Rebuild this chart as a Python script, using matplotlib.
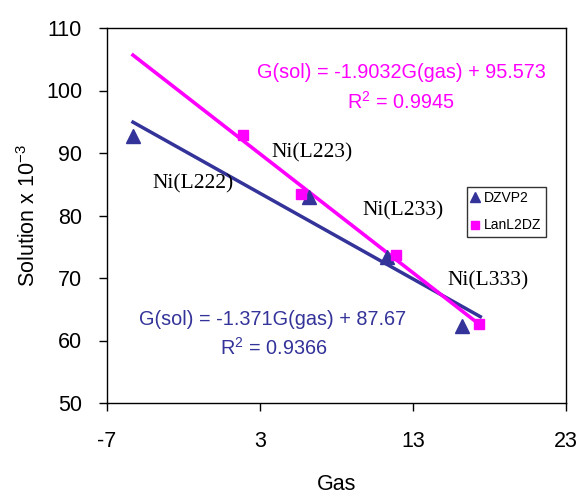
import matplotlib
matplotlib.use("Agg")
import matplotlib.pyplot as plt
import numpy as np

# Data
dzvp2_x = [-5.3, 6.2, 11.3, 16.2]
dzvp2_y = [92.8, 83.0, 73.4, 62.4]
lanl2dz_x = [1.9, 5.7, 11.9, 17.3]
lanl2dz_y = [92.9, 83.4, 73.7, 62.6]

# Fitted trend lines (from the displayed equations)
dzvp2_fit = (-1.371, 87.67)
lanl2dz_fit = (-1.9032, 95.573)
fit_x_range = (-5.3, 17.4)

point_labels = ["Ni(L222)", "Ni(L223)", "Ni(L233)", "Ni(L333)"]
label_pos_x = [-1.4, 6.4, 12.35, 17.9]
label_pos_y = [85.0, 90.0, 80.7, 69.6]

x_ticks = [-7, 3, 13, 23]
y_ticks = [50, 60, 70, 80, 90, 100, 110]

navy = "#333399"
magenta = "#FF00FF"

plt.rcParams['font.family'] = ['Liberation Sans', 'DejaVu Sans']
plt.rcParams['axes.unicode_minus'] = False
plt.rcParams['mathtext.fontset'] = 'custom'
plt.rcParams['mathtext.rm'] = 'Liberation Sans'
plt.rcParams['mathtext.it'] = 'Liberation Sans:italic'
plt.rcParams['mathtext.bf'] = 'Liberation Sans:bold'

fig = plt.figure(figsize=(5.82, 4.97), dpi=100)
ax = fig.add_axes([107/582, 1-403/497, (566-107)/582, (403-28)/497])

xs = np.array(fit_x_range)
ax.plot(xs, dzvp2_fit[0]*xs + dzvp2_fit[1], color=navy, lw=2.5, zorder=2)
ax.plot(xs, lanl2dz_fit[0]*xs + lanl2dz_fit[1], color=magenta, lw=2.6, zorder=2)

ax.plot(dzvp2_x, dzvp2_y, linestyle='none', marker='^', ms=9.5, color=navy,
        label='DZVP2', zorder=3)
ax.plot(lanl2dz_x, lanl2dz_y, linestyle='none', marker='s', ms=7.5, color=magenta,
        label='LanL2DZ', zorder=3)

for lab, lx, ly in zip(point_labels, label_pos_x, label_pos_y):
    ax.text(lx, ly, lab, ha='center', va='center', fontsize=15.5,
            family=['Liberation Serif', 'DejaVu Serif'], color='black', zorder=4)

ax.text(12.25, 102.8, "G(sol) = -1.9032G(gas) + 95.573", color=magenta,
        ha='center', va='center', fontsize=14.3)
ax.text(12.2, 98.2, "R$^{\\mathrm{2}}$ = 0.9945", color=magenta, ha='center', va='center', fontsize=14.3)
ax.text(3.85, 63.4, "G(sol) = -1.371G(gas) + 87.67", color=navy,
        ha='center', va='center', fontsize=14.3)
ax.text(3.88, 58.9, "R$^{\\mathrm{2}}$ = 0.9366", color=navy, ha='center', va='center', fontsize=14.3)

ax.set_xlim(-7, 23)
ax.set_ylim(50, 110)
ax.set_xticks(x_ticks)
ax.set_yticks(y_ticks)
ax.tick_params(axis='both', direction='out', length=6, width=1, labelsize=15.5, color='black')
ax.tick_params(axis='y', pad=12)
ax.tick_params(axis='x', pad=14)
for s in ax.spines.values():
    s.set_linewidth(1.0)
    s.set_color('black')

ax.set_xlabel("Gas", fontsize=15.5)
ax.xaxis.set_label_coords(0.501, -0.19)
ax.set_ylabel("Solution x 10$^{\\mathrm{-3}}$", fontsize=15.5)
ax.yaxis.set_label_coords(-0.146, 0.50)

leg = ax.legend(loc='upper left', bbox_to_anchor=(0.784, 0.576), fontsize=10,
                frameon=True, fancybox=False, edgecolor='black', handlelength=0.6,
                handletextpad=0.35, borderpad=0.3, labelspacing=0.95, markerscale=0.7,
                borderaxespad=0)
leg.get_frame().set_linewidth(1.0)

fig.savefig("out.png", dpi=100)
